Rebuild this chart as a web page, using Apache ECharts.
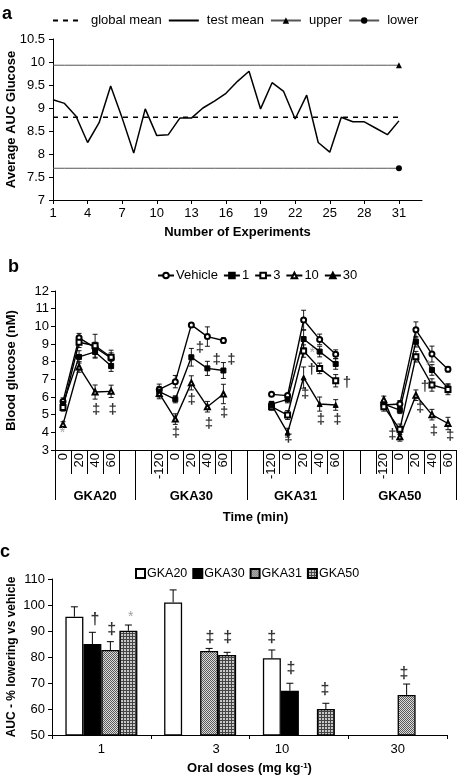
<!DOCTYPE html>
<html><head><meta charset="utf-8">
<script src="https://cdn.jsdelivr.net/npm/echarts@6.0.0/dist/echarts.min.js"></script>
<style>html,body{margin:0;padding:0;background:#fff}#c{width:466px;height:782px}</style>
</head><body><div id="c"></div>
<script>
// ---------- Panel a data ----------
const experiments = ['1','2','3','4','5','6','7','8','9','10','11','12','13','14','15','16','17','18','19','20','21','22','23','24','25','26','27','28','29','30','31','32','33'];
const testMean = [9.18,9.1,8.82,8.25,8.68,9.48,8.78,8.02,8.98,8.4,8.42,8.78,8.78,9.0,9.15,9.32,9.58,9.8,8.98,9.55,9.36,8.76,9.28,8.25,8.04,8.8,8.7,8.7,8.56,8.42,8.72];
const globalMean = 8.8;
const upperLimit = 9.93;
const lowerLimit = 7.69;

// ---------- Panel b data ----------
const timeLabels = ['0','20','40','60','','','-120','0','20','40','60','','','-120','0','20','40','60','','','-120','0','20','40','60'];
const groupNames = ['GKA20','GKA30','GKA31','GKA50'];
const groupStarts = [0,5,12,18];
const vehicle = [5.75,9.35,8.8,8.2,null,null,6.43,6.87,10.08,9.42,9.2,null,null,6.15,6.08,10.36,9.26,8.42,null,null,5.55,5.6,9.8,8.43,7.57];
const vehicleErr = [0.2,0.25,0.3,0.3,null,null,0.3,0.35,0.1,0.55,0.15,null,null,0.1,0.1,0.55,0.3,0.25,null,null,0.2,0.2,0.45,0.45,0.15];
const dose1 = [5.6,8.27,8.55,7.75,null,null,6.3,5.87,8.25,7.62,7.5,null,null,5.6,5.87,9.28,8.57,7.87,null,null,5.6,5.26,9.13,7.53,6.49];
const dose1Err = [0.2,0.35,0.35,0.3,null,null,0.3,0.2,0.5,0.4,0.45,null,null,0.15,0.2,0.5,0.3,0.3,null,null,0.2,0.2,0.3,0.3,0.25];
const dose3 = [5.4,9.1,8.9,8.25,null,null,null,null,null,null,null,null,null,5.45,4.98,8.6,7.62,6.92,null,null,5.45,4.17,8.28,6.68,6.43];
const dose3Err = [0.2,0.3,0.65,0.4,null,null,null,null,null,null,null,null,null,0.2,0.25,0.35,0.3,0.35,null,null,0.25,0.3,0.3,0.35,0.3];
const dose10 = [4.45,7.7,6.28,6.32,null,null,6.2,4.75,6.8,5.45,6.17,null,null,null,null,null,null,null,null,null,5.85,3.75,6.1,5.0,4.5];
const dose10Err = [0.15,0.3,0.4,0.35,null,null,0.3,0.3,0.4,0.3,0.55,null,null,null,null,null,null,null,null,null,0.2,0.25,0.3,0.3,0.35];
const dose30 = [null,null,null,null,null,null,null,null,null,null,null,null,null,5.55,3.98,7.1,5.6,5.55,null,null,null,null,null,null,null];
const dose30Err = [null,null,null,null,null,null,null,null,null,null,null,null,null,0.2,0.25,0.6,0.4,0.3,null,null,null,null,null,null,null];
// significance marks: [position in category units, glucose, symbol]
const marksB = [[0.47,3.95,'*'],[2.56,5.3,'‡'],[3.6,5.3,'‡'],
  [9.04,8.76,'‡'],[10.08,8.1,'‡'],[11.0,8.1,'‡'],[8.52,5.85,'‡'],[7.54,3.95,'‡'],[9.6,4.5,'‡'],[10.54,5.1,'‡'],
  [16.04,8.5,'*'],[16.0,7.53,'†'],[18.2,6.78,'†'],[15.59,6.17,'‡'],[16.58,4.7,'‡'],[17.6,4.7,'‡'],[14.55,3.7,'‡'],
  [23.27,7.72,'*'],[23.07,6.58,'†'],[22.76,5.36,'‡'],[23.63,4.1,'‡'],[24.63,3.8,'‡'],[21.03,3.85,'‡']];

// ---------- Panel c data ----------
const doses = ['1','3','10','30'];
const barGKA20 = [95.5,101,79.5,null];
const barGKA30 = [85,null,67,null];
const barGKA31 = [82.7,82.3,null,65.4];
const barGKA50 = [90.1,80.8,60,null];
const errGKA20 = [3.8,4.8,3.2,null];
const errGKA30 = [4.5,null,2.9,null];
const errGKA31 = [3.2,1.0,null,4.2];
const errGKA50 = [2.2,1.0,2.2,null];
const marksC = [[0.435,94.2,'†'],[0.605,90.4,'‡'],[0.797,95.5,'*'],[1.6,87.3,'‡'],[1.78,87.3,'‡'],
  [2.225,87.3,'‡'],[2.42,75.4,'‡'],[2.765,67.3,'‡'],[3.565,73.6,'‡']];

// ---------- styles ----------
const FONT = '"Liberation Sans", Arial, sans-serif';
const BLACK = '#000';
const BAR_W = 18;
const doseLabelPad = [[0,0,0,0],[0,0,0,32],[0,34,0,0],[0,0,0,0]];

function pattern(kind){
  const c = document.createElement('canvas');
  const g = c.getContext('2d');
  if (kind === 'dots') {
    c.width = 2; c.height = 2;
    g.fillStyle = '#dcdcdc'; g.fillRect(0,0,2,2);
    g.fillStyle = '#5a5a5a'; g.fillRect(0,0,1,1); g.fillRect(1,1,1,1);
  } else {
    c.width = 3; c.height = 3;
    g.fillStyle = '#c8c8c8'; g.fillRect(0,0,3,3);
    g.fillStyle = '#444'; g.fillRect(0,0,3,1); g.fillRect(0,0,1,3);
  }
  return {image: c, repeat: 'repeat'};
}

const axisLineBlack = {show:true, lineStyle:{color:BLACK, width:1}};
const tickBlack = (len) => ({show:true, length:len, lineStyle:{color:BLACK, width:1}});
const lblStyle = (extra) => Object.assign({color:BLACK, fontSize:13, fontFamily:FONT}, extra||{});
const nameStyle = (size) => ({fontWeight:'bold', fontSize:size||13, color:BLACK, fontFamily:FONT});

// group label placement on the second category axis
const nCat = timeLabels.length;
const bandPx = 401 / nCat;
const groupAxisData = timeLabels.map(() => '');
groupNames.forEach((g, k) => {
  const start = groupStarts[k];
  const end = k + 1 < groupStarts.length ? groupStarts[k+1] : nCat;
  const center = (start + end) / 2;
  const idx = Math.min(nCat - 1, Math.floor(center - 0.5 + 1e-9));
  const shift = (center - (idx + 0.5)) * bandPx;
  groupAxisData[idx] = {value: g, textStyle: {padding: shift >= 0 ? [0,0,0,2*shift] : [0,-2*shift,0,0]}};
});

// error bar data for panel b
const bSeries = [vehicle, dose1, dose3, dose10, dose30];
const bErrs = [vehicleErr, dose1Err, dose3Err, dose10Err, dose30Err];
const errBData = [];
bSeries.forEach((arr, s) => arr.forEach((v, i) => {
  if (v != null && bErrs[s][i] != null) errBData.push([i, v, bErrs[s][i]]);
}));

const cBars = [barGKA20, barGKA30, barGKA31, barGKA50];
const cErrs = [errGKA20, errGKA30, errGKA31, errGKA50];
const errCData = [];
cBars.forEach((arr, s) => arr.forEach((v, i) => {
  if (v != null && cErrs[s][i] != null) errCData.push([i, v, cErrs[s][i], s]);
}));

function errBRender(params, api){
  const x = api.value(0), y = api.value(1), e = api.value(2);
  const t = api.coord([x, y + e]), b = api.coord([x, y - e]);
  const st = {stroke: BLACK, lineWidth: 0.9};
  return {type:'group', children:[
    {type:'line', shape:{x1:t[0], y1:t[1], x2:b[0], y2:b[1]}, style:st},
    {type:'line', shape:{x1:t[0]-2.5, y1:t[1], x2:t[0]+2.5, y2:t[1]}, style:st},
    {type:'line', shape:{x1:b[0]-2.5, y1:b[1], x2:b[0]+2.5, y2:b[1]}, style:st}
  ]};
}
function errCRender(params, api){
  const ci = api.value(0), v = api.value(1), e = api.value(2), s = api.value(3);
  const p0 = api.coord([ci, v]), p1 = api.coord([ci, v + e]);
  const x = p0[0] + (s - 1.5) * BAR_W;
  const st = {stroke: BLACK, lineWidth: 1};
  return {type:'group', children:[
    {type:'line', shape:{x1:x, y1:p0[1], x2:x, y2:p1[1]}, style:st},
    {type:'line', shape:{x1:x-3.5, y1:p1[1], x2:x+3.5, y2:p1[1]}, style:st}
  ]};
}
function markSeries(marks, xi, yi, size){
  return {type:'scatter', xAxisIndex:xi, yAxisIndex:yi, symbolSize:1, silent:true, z:5,
    itemStyle:{color:'rgba(0,0,0,0)'},
    label:{show:true, position:'inside', formatter:'{b}', fontFamily:FONT},
    data: marks.map(m => ({value:[m[0], m[1]], name:m[2],
      label:{color: m[2] === '*' ? '#888' : BLACK, fontSize: m[2] === '*' ? 14 : size,
             fontWeight: m[2] === '*' ? 'normal' : 'bold'}}))};
}

const lastIdx = testMean.length - 1;
const limitData = (val) => testMean.map((_, i) => i === lastIdx ? {value: val} : {value: val, symbol: 'none'});

const lineB = (name, data, symbol) => ({
  name, type:'line', xAxisIndex:1, yAxisIndex:1, data, symbol, symbolSize:5, showAllSymbol:true,
  connectNulls:false, z:3, lineStyle:{color:BLACK, width:1.4}, itemStyle:{color:BLACK, borderColor:BLACK, borderWidth:1}
});
const barC = (name, data, color) => ({
  name, type:'bar', xAxisIndex:4, yAxisIndex:2, data, barWidth:BAR_W, barGap:'0%', z:2,
  itemStyle:{color, borderColor:BLACK, borderWidth:1.3}
});

const option = {
  animation:false,
  textStyle:{fontFamily:FONT, color:BLACK},
  grid:[
    {left:53, top:39, width:369, height:161, outerBoundsMode:'none'},
    {left:55, top:291, width:401, height:159, outerBoundsMode:'none'},
    {left:52, top:579, width:395, height:156, outerBoundsMode:'none'}
  ],
  legend:[
    {left:52, top:14, padding:0, itemWidth:30, itemHeight:8, itemGap:6, selectedMode:false,
     data:['global mean','test mean','upper','lower'], textStyle:lblStyle({padding:[0,0,0,3]})},
    {left:157, top:269, padding:0, itemWidth:16, itemHeight:7, itemGap:5, selectedMode:false,
     data:['Vehicle','1','3','10','30'], textStyle:lblStyle({padding:[0,0,0,-3]})},
    {left:135, top:567, padding:0, itemWidth:9, itemHeight:9, itemGap:5, selectedMode:false, icon:'rect',
     data:['GKA20','GKA30','GKA31','GKA50'], textStyle:lblStyle({fontSize:12.5, padding:[0,0,0,-3]})}
  ],
  xAxis:[
    {gridIndex:0, type:'category', data:experiments, boundaryGap:false, position:'bottom',
     axisLine:axisLineBlack, axisTick:Object.assign(tickBlack(4), {interval:2}),
     axisLabel:lblStyle({interval:2, margin:7}), splitLine:{show:false},
     name:'Number of Experiments', nameLocation:'middle', nameGap:26, nameMoveOverlap:false, nameTextStyle:nameStyle(13)},
    {gridIndex:1, type:'category', data:timeLabels, position:'bottom',
     axisLine:axisLineBlack, axisTick:Object.assign(tickBlack(24), {interval:0}),
     axisLabel:lblStyle({interval:0, rotate:90, margin:3}), splitLine:{show:false}},
    {gridIndex:1, type:'category', data:groupAxisData, position:'bottom', offset:0,
     axisLine:{show:false}, axisTick:Object.assign(tickBlack(50), {interval:(i) => groupStarts.indexOf(i) >= 0}),
     axisLabel:lblStyle({interval:0, margin:40, fontWeight:'bold'}), splitLine:{show:false},
     name:'Time (min)', nameLocation:'middle', nameGap:61, nameMoveOverlap:false, nameTextStyle:nameStyle(13)},
    {gridIndex:1, type:'value', min:0, max:nCat, show:false},
    {gridIndex:2, type:'category', position:'bottom',
     data: doses.map((d, i) => ({value:d, textStyle:{padding:doseLabelPad[i]}})),
     axisLine:axisLineBlack, axisTick:tickBlack(4), axisLabel:lblStyle({interval:0, margin:8}), splitLine:{show:false},
     name:'Oral doses (mg kg{sup|-1})', nameLocation:'middle', nameGap:27, nameMoveOverlap:false,
     nameTextStyle:Object.assign(nameStyle(13), {rich:{sup:{fontSize:8, fontWeight:'bold', verticalAlign:'top', fontFamily:FONT, color:BLACK}}})},
    {gridIndex:2, type:'value', min:0, max:doses.length, show:false}
  ],
  yAxis:[
    {gridIndex:0, type:'value', min:7, max:10.5, interval:0.5,
     axisLine:axisLineBlack, axisTick:tickBlack(4), axisLabel:lblStyle({margin:8}), splitLine:{show:false},
     name:'Average AUC Glucose', nameLocation:'middle', nameGap:35, nameMoveOverlap:false, nameTextStyle:nameStyle(13)},
    {gridIndex:1, type:'value', min:3, max:12, interval:1,
     axisLine:axisLineBlack, axisTick:tickBlack(4), axisLabel:lblStyle({margin:6}), splitLine:{show:false},
     name:'Blood glucose (nM)', nameLocation:'middle', nameGap:37, nameMoveOverlap:false, nameTextStyle:nameStyle(13)},
    {gridIndex:2, type:'value', min:50, max:110, interval:10,
     axisLine:axisLineBlack, axisTick:tickBlack(4), axisLabel:lblStyle({margin:7}), splitLine:{show:false},
     name:'AUC - % lowering vs vehicle', nameLocation:'middle', nameGap:34, nameMoveOverlap:false, nameTextStyle:nameStyle(12)}
  ],
  series:[
    // panel a
    {name:'global mean', type:'line', xAxisIndex:0, yAxisIndex:0, data:testMean.map(() => globalMean), symbol:'none',
     lineStyle:{color:BLACK, width:1.5, type:[5,5]}, itemStyle:{color:'rgba(0,0,0,0)'}},
    {name:'test mean', type:'line', xAxisIndex:0, yAxisIndex:0, data:testMean, symbol:'none',
     lineStyle:{color:BLACK, width:1.5}, itemStyle:{color:'rgba(0,0,0,0)'}},
    {name:'upper', type:'line', xAxisIndex:0, yAxisIndex:0, data:limitData(upperLimit), symbol:'triangle', symbolSize:6, showAllSymbol:true,
     lineStyle:{color:'#555', width:1}, itemStyle:{color:BLACK}},
    {name:'lower', type:'line', xAxisIndex:0, yAxisIndex:0, data:limitData(lowerLimit), symbol:'circle', symbolSize:6, showAllSymbol:true,
     lineStyle:{color:'#555', width:1}, itemStyle:{color:BLACK}},
    // panel b
    {type:'custom', xAxisIndex:1, yAxisIndex:1, renderItem:errBRender, data:errBData, z:1, silent:true},
    lineB('Vehicle', vehicle, 'emptyCircle'),
    lineB('1', dose1, 'rect'),
    lineB('3', dose3, 'emptyRect'),
    lineB('10', dose10, 'emptyTriangle'),
    lineB('30', dose30, 'triangle'),
    markSeries(marksB, 3, 1, 15),
    // panel c
    barC('GKA20', barGKA20, '#fff'),
    barC('GKA30', barGKA30, '#000'),
    barC('GKA31', barGKA31, pattern('dots')),
    barC('GKA50', barGKA50, pattern('grid')),
    {type:'custom', xAxisIndex:4, yAxisIndex:2, renderItem:errCRender, data:errCData, z:3, silent:true},
    markSeries(marksC, 5, 2, 16)
  ],
  graphic:[
    {type:'text', left:2, top:5, style:{text:'a', font:'bold 18px "Liberation Sans", Arial, sans-serif', fill:BLACK}},
    {type:'text', left:8, top:258, style:{text:'b', font:'bold 18px "Liberation Sans", Arial, sans-serif', fill:BLACK}},
    {type:'text', left:0, top:543, style:{text:'c', font:'bold 18px "Liberation Sans", Arial, sans-serif', fill:BLACK}}
  ]
};
const chart = echarts.init(document.getElementById('c'));
chart.setOption(option);
</script>
</body></html>
